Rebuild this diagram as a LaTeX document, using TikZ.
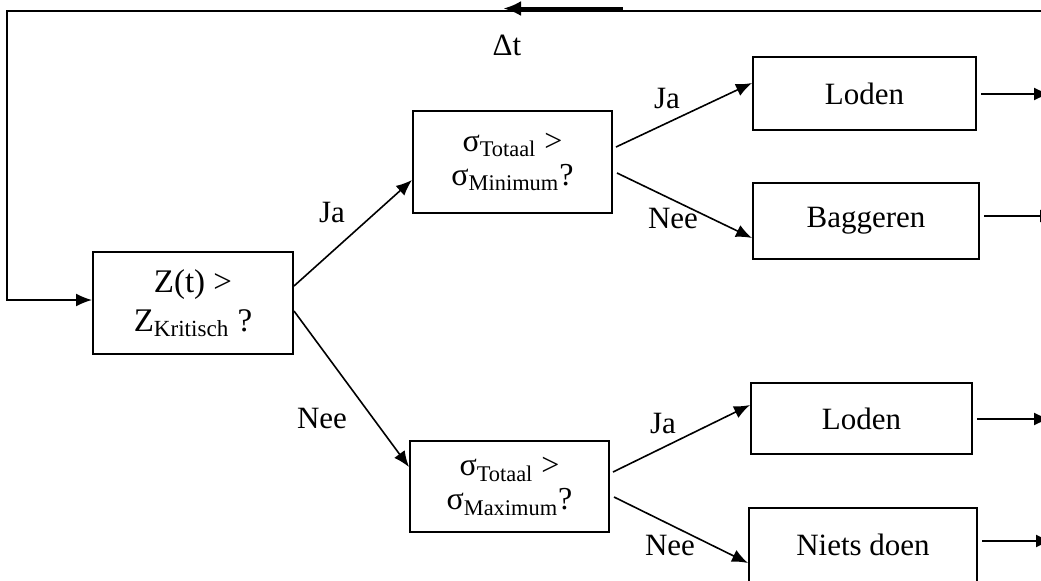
\documentclass[tikz,border=0pt]{standalone}
\usepackage{fontspec}
\setmainfont{Liberation Serif}
\usetikzlibrary{arrows.meta,calc}

\begin{document}
\begin{tikzpicture}[x=0.5pt, y=-0.5pt, >={Latex[length=8pt,width=6.5pt]}, line width=0.8pt,
  every node/.style={font=\fontsize{15.5}{19}\selectfont},
  box/.style={draw, line width=1pt, inner sep=0pt, align=center}]
\useasboundingbox (0,0) rectangle (1041,580);
% beslisboxen
\node[box,minimum width=100pt,minimum height=51pt,font=\fontsize{16.5}{19.5}\selectfont] (zk) at (193,303) {Z(t) >\\Z\textsubscript{Kritisch} ?};
\node[box,minimum width=99.5pt,minimum height=51pt,font=\fontsize{16}{17}\selectfont] (smin) at (512.5,162) {σ\textsubscript{Totaal} >\\σ\textsubscript{Minimum}?};
\node[box,minimum width=99.5pt,minimum height=45.5pt,font=\fontsize{16}{17}\selectfont] (smax) at (509.5,486.5) {σ\textsubscript{Totaal} >\\σ\textsubscript{Maximum}?};
% acties
\node[box,minimum width=111.5pt,minimum height=36.5pt] (lod1) at (864.5,93.5) {Loden};
\node[box,minimum width=113pt,minimum height=38pt] (bagg) at (866,221) {Baggeren};
\node[box,minimum width=110.5pt,minimum height=35.5pt] (lod2) at (861.5,418.5) {Loden};
\node[box,minimum width=114pt,minimum height=37pt] (niets) at (863,545) {Niets doen};
% takken
\draw[->] ([yshift=8.5pt]zk.east) -- ([yshift=-9pt]smin.west);
\draw[->] ([yshift=-4pt]zk.east) -- ([yshift=9.75pt]smax.west);
\draw[->] ([xshift=1.5pt,yshift=7.5pt]smin.east) -- ([yshift=5.25pt]lod1.west);
\draw[->] ([xshift=2pt,yshift=-5.5pt]smin.east) -- ([yshift=-8.5pt]bagg.west);
\draw[->] ([xshift=1.5pt,yshift=7.25pt]smax.east) -- ([yshift=6.75pt]lod2.west);
\draw[->] ([xshift=2pt,yshift=-5.25pt]smax.east) -- ([yshift=-9pt]niets.west);
\node (ja1) at (332,212) {Ja};
\node (nee1) at (322,418) {Nee};
\node (ja2) at (667,98) {Ja};
\node (nee2) at (673,218) {Nee};
\node (ja3) at (663,423) {Ja};
\node (nee3) at (670,545) {Nee};
% uitgangen
\coordinate (out1) at (1050,94);
\coordinate (out2) at (1056,216);
\coordinate (out3) at (1050,419);
\coordinate (out4) at (1052,541);
\draw[->] ($(lod1.east |- out1)+(4,0)$) -- (out1);
\draw[->] ($(bagg.east |- out2)+(4,0)$) -- (out2);
\draw[->] ($(lod2.east |- out3)+(4,0)$) -- (out3);
\draw[->] ($(niets.east |- out4)+(4,0)$) -- (out4);
% terugkoppeling
\coordinate (fbR) at (1050,11);
\coordinate (fbL) at (7,11);
\draw[->] (fbR) -- (fbL) |- ([yshift=1.5pt]zk.west);
\coordinate (dtR) at (623,8.5);
\coordinate (dtL) at (503,8.5);
\draw[line width=2pt,-{Latex[length=9pt,width=7.5pt]}] (dtR) -- (dtL);
\node (dt) at (507,45) {Δt};
\end{tikzpicture}
\end{document}
